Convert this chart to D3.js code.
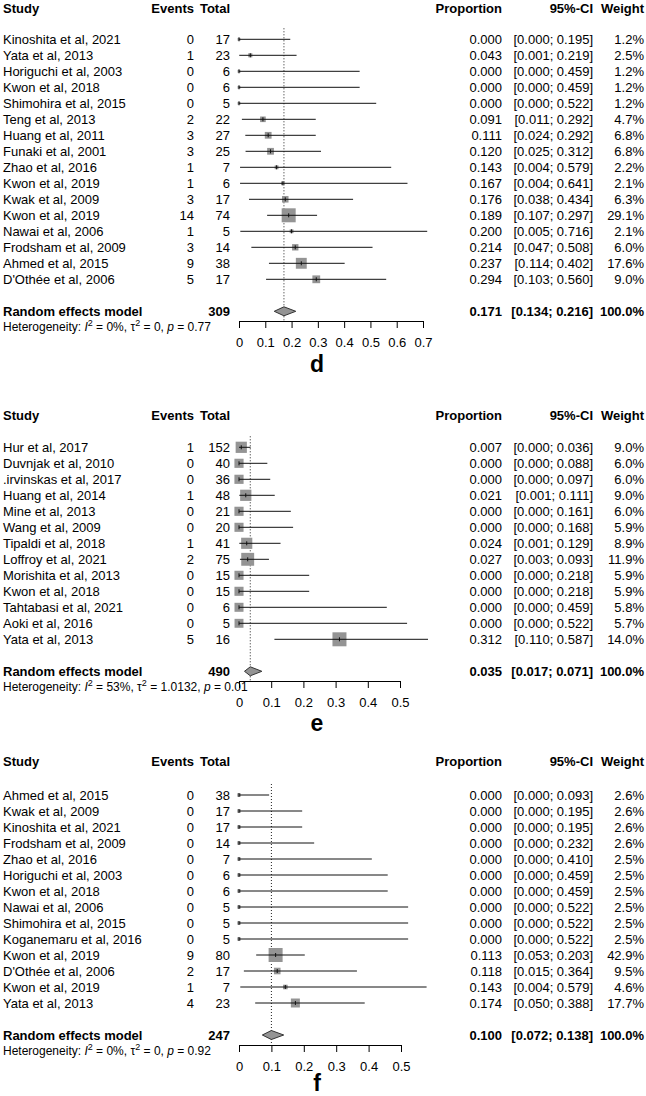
<!DOCTYPE html>
<html>
<head>
<meta charset="utf-8">
<script src="https://cdn.jsdelivr.net/npm/d3@7/dist/d3.min.js"></script>
<style>
  body { margin: 0; background: #fff; }
  svg { display: block; font-family: "Liberation Sans", Arial, Helvetica, sans-serif; }
</style>
</head>
<body>
<script>
// panel d
const dStudies = ['Kinoshita et al, 2021', 'Yata et al, 2013', 'Horiguchi et al, 2003', 'Kwon et al, 2018', 'Shimohira et al, 2015', 'Teng et al, 2013', 'Huang et al, 2011', 'Funaki et al, 2001', 'Zhao et al, 2016', 'Kwon et al, 2019', 'Kwak et al, 2009', 'Kwon et al, 2019', 'Nawai et al, 2006', 'Frodsham et al, 2009', 'Ahmed et al, 2015', "D'Othée et al, 2006"];
const dEvents = [0, 1, 0, 0, 0, 2, 3, 3, 1, 1, 3, 14, 1, 3, 9, 5];
const dTotals = [17, 23, 6, 6, 5, 22, 27, 25, 7, 6, 17, 74, 5, 14, 38, 17];
const dProp = [0.000, 0.043, 0.000, 0.000, 0.000, 0.091, 0.111, 0.120, 0.143, 0.167, 0.176, 0.189, 0.200, 0.214, 0.237, 0.294];
const dLower = [0.000, 0.001, 0.000, 0.000, 0.000, 0.011, 0.024, 0.025, 0.004, 0.004, 0.038, 0.107, 0.005, 0.047, 0.114, 0.103];
const dUpper = [0.195, 0.219, 0.459, 0.459, 0.522, 0.292, 0.292, 0.312, 0.579, 0.641, 0.434, 0.297, 0.716, 0.508, 0.402, 0.560];
const dWeight = [1.2, 2.5, 1.2, 1.2, 1.2, 4.7, 6.8, 6.8, 2.2, 2.1, 6.3, 29.1, 2.1, 6.0, 17.6, 9.0];
const dPooled = [0.171, 0.134, 0.216];
const dTotalN = 309;
const dHet = ['0%', '0', '0.77'];
const dTicks = [0, 0.1, 0.2, 0.3, 0.4, 0.5, 0.6, 0.7];

// panel e
const eStudies = ['Hur et al, 2017', 'Duvnjak et al, 2010', '.irvinskas et al, 2017', 'Huang et al, 2014', 'Mine et al, 2013', 'Wang et al, 2009', 'Tipaldi et al, 2018', 'Loffroy et al, 2021', 'Morishita et al, 2013', 'Kwon et al, 2018', 'Tahtabasi et al, 2021', 'Aoki et al, 2016', 'Yata et al, 2013'];
const eEvents = [1, 0, 0, 1, 0, 0, 1, 2, 0, 0, 0, 0, 5];
const eTotals = [152, 40, 36, 48, 21, 20, 41, 75, 15, 15, 6, 5, 16];
const eProp = [0.007, 0.000, 0.000, 0.021, 0.000, 0.000, 0.024, 0.027, 0.000, 0.000, 0.000, 0.000, 0.312];
const eLower = [0.000, 0.000, 0.000, 0.001, 0.000, 0.000, 0.001, 0.003, 0.000, 0.000, 0.000, 0.000, 0.110];
const eUpper = [0.036, 0.088, 0.097, 0.111, 0.161, 0.168, 0.129, 0.093, 0.218, 0.218, 0.459, 0.522, 0.587];
const eWeight = [9.0, 6.0, 6.0, 9.0, 6.0, 5.9, 8.9, 11.9, 5.9, 5.9, 5.8, 5.7, 14.0];
const ePooled = [0.035, 0.017, 0.071];
const eTotalN = 490;
const eHet = ['53%', '1.0132', '0.01'];
const eTicks = [0, 0.1, 0.2, 0.3, 0.4, 0.5];

// panel f
const fStudies = ['Ahmed et al, 2015', 'Kwak et al, 2009', 'Kinoshita et al, 2021', 'Frodsham et al, 2009', 'Zhao et al, 2016', 'Horiguchi et al, 2003', 'Kwon et al, 2018', 'Nawai et al, 2006', 'Shimohira et al, 2015', 'Koganemaru et al, 2016', 'Kwon et al, 2019', "D'Othée et al, 2006", 'Kwon et al, 2019', 'Yata et al, 2013'];
const fEvents = [0, 0, 0, 0, 0, 0, 0, 0, 0, 0, 9, 2, 1, 4];
const fTotals = [38, 17, 17, 14, 7, 6, 6, 5, 5, 5, 80, 17, 7, 23];
const fProp = [0.000, 0.000, 0.000, 0.000, 0.000, 0.000, 0.000, 0.000, 0.000, 0.000, 0.113, 0.118, 0.143, 0.174];
const fLower = [0.000, 0.000, 0.000, 0.000, 0.000, 0.000, 0.000, 0.000, 0.000, 0.000, 0.053, 0.015, 0.004, 0.050];
const fUpper = [0.093, 0.195, 0.195, 0.232, 0.410, 0.459, 0.459, 0.522, 0.522, 0.522, 0.203, 0.364, 0.579, 0.388];
const fWeight = [2.6, 2.6, 2.6, 2.6, 2.5, 2.5, 2.5, 2.5, 2.5, 2.5, 42.9, 9.5, 4.6, 17.7];
const fPooled = [0.100, 0.072, 0.138];
const fTotalN = 247;
const fHet = ['0%', '0', '0.92'];
const fTicks = [0, 0.1, 0.2, 0.3, 0.4, 0.5];

const W = 646, H = 1096;
const ROW = 16;
const fmt3 = d3.format('.3f');
const fmtW = d => d3.format('.1f')(d) + '%';
const fmtTick = d3.format('~g');

const svg = d3.select('body').append('svg')
  .attr('width', W).attr('height', H);

function txt(g, x, y, s, anchor, bold, size) {
  return g.append('text')
    .attr('x', x).attr('y', y).attr('dy', '0.35em')
    .attr('text-anchor', anchor || 'start')
    .attr('font-weight', bold ? 'bold' : 'normal')
    .attr('font-size', size || 13)
    .attr('fill', '#000')
    .text(s);
}

function drawPanel(p, lay) {
  const g = svg.append('g');
  const n = p.studies.length;
  const rowY = i => lay.row0 + i * ROW;
  const reY = rowY(n - 1) + 32;
  const x = d3.scaleLinear().domain([0, p.ticks[p.ticks.length - 1]]).range([239, lay.xMax]);
  const wMax = d3.max(p.weight);
  const side = w => 14 * Math.sqrt(w / wMax);

  // column headers
  txt(g, 3, lay.header, 'Study', 'start', true);
  txt(g, 194, lay.header, 'Events', 'end', true);
  txt(g, 230, lay.header, 'Total', 'end', true);
  txt(g, 502, lay.header, 'Proportion', 'end', true);
  txt(g, 593, lay.header, '95%-CI', 'end', true);
  txt(g, 644, lay.header, 'Weight', 'end', true);

  // study rows
  p.studies.forEach((s, i) => {
    const y = rowY(i);
    txt(g, 3, y, s);
    txt(g, 194, y, p.events[i], 'end');
    txt(g, 230, y, p.totals[i], 'end');
    txt(g, 502, y, fmt3(p.prop[i]), 'end');
    txt(g, 593, y, '[' + fmt3(p.lower[i]) + '; ' + fmt3(p.upper[i]) + ']', 'end');
    txt(g, 644, y, fmtW(p.weight[i]), 'end');
  });

  // pooled row
  txt(g, 3, reY, 'Random effects model', 'start', true);
  txt(g, 230, reY, p.totalN, 'end', true);
  txt(g, 502, reY, fmt3(p.pooled[0]), 'end', true);
  txt(g, 593, reY, '[' + fmt3(p.pooled[1]) + '; ' + fmt3(p.pooled[2]) + ']', 'end', true);
  txt(g, 644, reY, '100.0%', 'end', true);

  // heterogeneity
  const het = g.append('text').attr('x', 3).attr('y', reY + 15.5).attr('dy', '0.35em')
    .attr('font-size', 12).attr('fill', '#000');
  het.append('tspan').text('Heterogeneity: ');
  het.append('tspan').attr('font-style', 'italic').text('I');
  het.append('tspan').attr('font-size', 9).attr('dy', -5).text('2');
  het.append('tspan').attr('dy', 5).text(' = ' + p.het[0] + ', \u03c4');
  het.append('tspan').attr('font-size', 9).attr('dy', -5).text('2');
  het.append('tspan').attr('dy', 5).text(' = ' + p.het[1] + ', ');
  het.append('tspan').attr('font-style', 'italic').text('p');
  het.append('tspan').text(' = ' + p.het[2]);

  // reference line at pooled estimate
  g.append('line')
    .attr('x1', x(p.pooled[0])).attr('x2', x(p.pooled[0]))
    .attr('y1', lay.row0 - 11).attr('y2', lay.axisY)
    .attr('stroke', '#222').attr('stroke-width', 1).attr('stroke-dasharray', '1,2');

  // squares
  g.append('g').selectAll('rect').data(p.prop)
    .enter().append('rect')
    .attr('x', (d, i) => x(d) - side(p.weight[i]) / 2)
    .attr('y', (d, i) => rowY(i) - side(p.weight[i]) / 2)
    .attr('width', (d, i) => side(p.weight[i]))
    .attr('height', (d, i) => side(p.weight[i]))
    .attr('fill', '#949494');

  // confidence intervals
  g.append('g').selectAll('line').data(p.prop)
    .enter().append('line')
    .attr('x1', (d, i) => x(p.lower[i]))
    .attr('x2', (d, i) => x(p.upper[i]))
    .attr('y1', (d, i) => rowY(i)).attr('y2', (d, i) => rowY(i))
    .attr('stroke', '#111').attr('stroke-width', 1);

  // point estimate ticks
  g.append('g').selectAll('line').data(p.prop)
    .enter().append('line')
    .attr('x1', d => x(d)).attr('x2', d => x(d))
    .attr('y1', (d, i) => rowY(i) - 2).attr('y2', (d, i) => rowY(i) + 2)
    .attr('stroke', '#111').attr('stroke-width', 1);

  // diamond
  const dh = 4.5;
  g.append('path')
    .attr('d', `M${x(p.pooled[1])},${reY} L${x(p.pooled[0])},${reY - dh} L${x(p.pooled[2])},${reY} L${x(p.pooled[0])},${reY + dh} Z`)
    .attr('fill', '#949494').attr('stroke', '#333').attr('stroke-width', 1);

  // axis
  const axis = g.append('g').attr('transform', `translate(0,${lay.axisY})`)
    .call(d3.axisBottom(x).tickValues(p.ticks).tickFormat(fmtTick).tickSize(7).tickSizeOuter(0).tickPadding(10));
  axis.select('.domain').attr('stroke', '#000');
  axis.selectAll('.tick line').attr('stroke', '#000');
  axis.selectAll('.tick text').attr('font-size', 13).attr('fill', '#000')
    .attr('font-family', '"Liberation Sans", Arial, sans-serif');

  // panel letter
  g.append('text').attr('x', 317).attr('y', lay.letterY)
    .attr('text-anchor', 'middle').attr('font-weight', 'bold').attr('font-size', 23)
    .text(lay.letter);
}

drawPanel({studies: dStudies, events: dEvents, totals: dTotals, prop: dProp, lower: dLower, upper: dUpper,
  weight: dWeight, pooled: dPooled, totalN: dTotalN, het: dHet, ticks: dTicks},
  {header: 8, row0: 39.3, axisY: 321, xMax: 423, letter: 'd', letterY: 372});

drawPanel({studies: eStudies, events: eEvents, totals: eTotals, prop: eProp, lower: eLower, upper: eUpper,
  weight: eWeight, pooled: ePooled, totalN: eTotalN, het: eHet, ticks: eTicks},
  {header: 415, row0: 447.3, axisY: 681, xMax: 400, letter: 'e', letterY: 731});

drawPanel({studies: fStudies, events: fEvents, totals: fTotals, prop: fProp, lower: fLower, upper: fUpper,
  weight: fWeight, pooled: fPooled, totalN: fTotalN, het: fHet, ticks: fTicks},
  {header: 761.7, row0: 795, axisY: 1045, xMax: 401, letter: 'f', letterY: 1091});
</script>
</body>
</html>
